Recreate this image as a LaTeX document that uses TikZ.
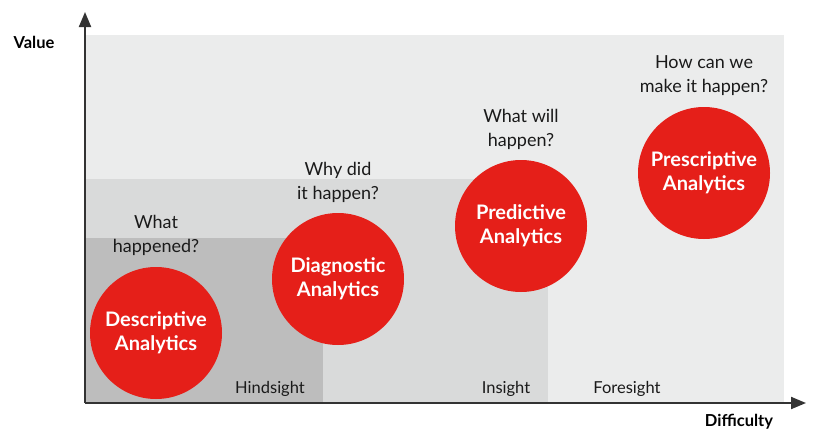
\documentclass[tikz,border=0pt]{standalone}
\usepackage{fontspec}
\setmainfont{Lato}
\usetikzlibrary{arrows.meta}
\definecolor{bgA}{HTML}{EBECEC}
\definecolor{bgB}{HTML}{D9DADA}
\definecolor{bgC}{HTML}{BDBDBD}
\definecolor{redC}{HTML}{E51F19}
\definecolor{txt}{HTML}{1A1A1A}
\definecolor{axisC}{HTML}{333333}
\tikzset{
  bubble/.style={circle, fill=redC, minimum size=132pt, inner sep=0pt, text=white, font=\fontsize{20}{24}\selectfont\bfseries, align=center},
  question/.style={text=txt, font=\fontsize{18}{23.5}\selectfont, align=center, inner sep=0pt, anchor=base},
  zone/.style={text=txt, font=\fontsize{16.5}{20}\selectfont, inner sep=0pt, anchor=base},
  axislabel/.style={text=black, font=\fontsize{16.5}{20}\selectfont\bfseries, inner sep=0pt, anchor=base},
  axisline/.style={draw=axisC, line width=2pt, -{Triangle[length=15pt,width=12pt]}}
}
\begin{document}
\begin{tikzpicture}[x=1pt,y=-1pt]
\useasboundingbox (0,0) rectangle (816,431);
\fill[bgA] (85,35) rectangle (784,403);
\fill[bgB] (85,179) rectangle (548,403);
\fill[bgC] (85,238) rectangle (323,403);
\coordinate (o) at (85,403);
\coordinate (ytop) at (85,12);
\coordinate (xend) at (806,403);
\draw[axisline] (o) -- (ytop);
\draw[axisline] (o) -- (xend);
\node[axislabel] (value) at (34,48) {Value};
\node[axislabel] (difficulty) at (739,426) {Difficulty};
\node[zone] (hind) at (270,393) {Hindsight};
\node[zone] (ins) at (506,393) {Insight};
\node[zone] (fore) at (627,393) {Foresight};
\node[bubble] (desc) at (156,333) {Descriptive\\Analytics};
\node[bubble] (diag) at (338,279) {Diagnostic\\Analytics};
\node[bubble] (pred) at (521,226) {Predictive\\Analytics};
\node[bubble] (pres) at (704,173) {Prescriptive\\Analytics};
\node[question] (q1) at (156,252) {What\\happened?};
\node[question] (q2) at (338,199) {Why did\\it happen?};
\node[question] (q3) at (521,146) {What will\\happen?};
\node[question] (q4) at (704,92) {How can we\\make it happen?};
\end{tikzpicture}
\end{document}
